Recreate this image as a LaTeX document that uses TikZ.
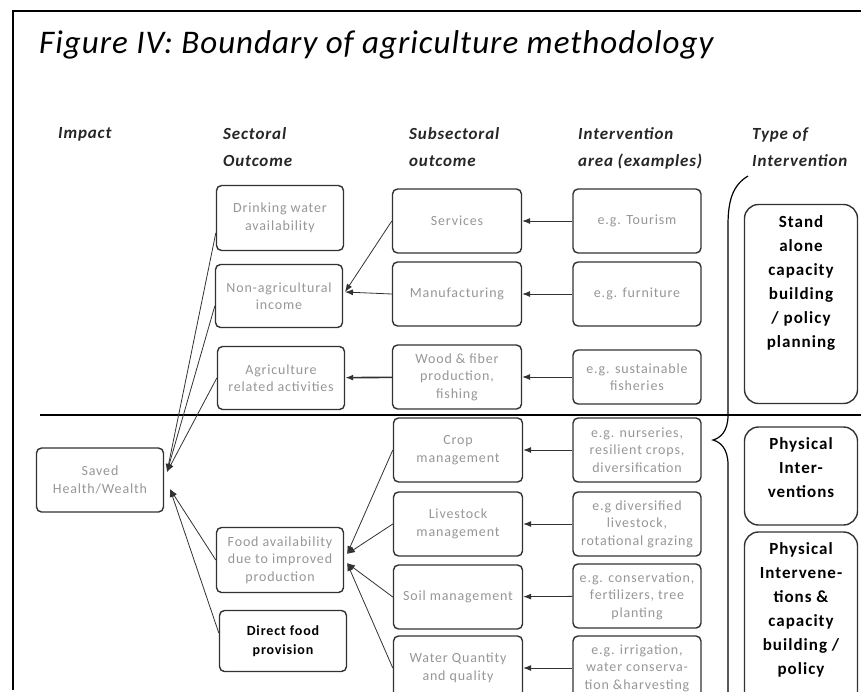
\documentclass[tikz,border=0pt]{standalone}
\usepackage{fontspec}
\setmainfont{Carlito}
\newfontfamily\boxfont[LetterSpace=6]{Carlito}
\newfontfamily\headfont[LetterSpace=5]{Carlito}
\newfontfamily\titlefont[LetterSpace=3]{Carlito}
\usetikzlibrary{positioning,arrows.meta}
\definecolor{colortext}{RGB}{150,150,150}
\definecolor{colorline}{RGB}{50,50,50}

\begin{document}
\begin{tikzpicture}[
    x=1pt, y=-1pt,
    base/.style={draw=colorline,line width=1.4pt,rounded corners=5pt,align=center,inner sep=2pt,
                 font={\boxfont\fontsize{14}{17.5}\selectfont},text=colortext},
    outcome/.style={base,minimum width=127pt,minimum height=63pt},
    area/.style={base,minimum width=128pt,minimum height=64pt},
    typebox/.style={draw=colorline,line width=1.4pt,rounded corners=14pt,minimum width=113pt},
    typetext/.style={inner sep=0pt,align=center,font={\boxfont\bfseries\fontsize{17}{24}\selectfont}},
    head/.style={anchor=north west,align=left,inner sep=0pt,
                 font={\headfont\bfseries\itshape\fontsize{17}{27}\selectfont},text=black!85},
    arr/.style={-{Latex[length=8pt,width=6pt]},line width=0.8pt,draw=colorline},
]
    \useasboundingbox (0,0) rectangle (861,691);
    \clip (0,0) rectangle (861,691);

    % frame and title
    \draw[line width=1.5pt] (13,690) -- (13,11) -- (875,11);
    \node[anchor=base west,inner sep=0pt,font={\titlefont\itshape\fontsize{33}{40}\selectfont}] (title) at (39,53)
        {Figure IV: Boundary of agriculture methodology};

    % column heads
    \node[head] (himpact)    at (58,127)  {Impact};
    \node[head] (hsector)    at (223,127) {Sectoral\\Outcome};
    \node[head] (hsubsector) at (409,127) {Subsectoral\\outcome};
    \node[head] (harea)      at (578,127) {Intervention\\area (examples)};
    \node[head] (htype)      at (752,127) {Type of\\Intervention};

    % divider
    \draw[line width=1.8pt] (40,415) -- (870,415);

    % impact
    \node[outcome,minimum height=64pt] (saved) at (100,480) {Saved\\Health/Wealth};

    % sectoral outcome
    \node[outcome,minimum height=65pt] (drink)   at (280,218) {Drinking water\\availability};
    \node[outcome] (nonagri) at (279,296) {Non-agricultural\\income};
    \node[outcome] (agrirel) at (281,378) {Agriculture\\related activities};
    \node[outcome,minimum height=65pt] (food)    at (280,560) {Food availability\\due to improved\\production};
    \node[outcome,minimum height=61pt,text=black,font={\boxfont\bfseries\fontsize{14}{19}\selectfont}]
        (direct) at (283,641) {Direct food\\provision};

    % subsectoral outcome
    \node[area,minimum width=129pt] (services)  at (457,221) {Services};
    \node[area,minimum width=129pt] (manuf)     at (457,294) {Manufacturing};
    \node[area,minimum width=129pt] (wood)      at (457,377) {Wood \& fiber\\production,\\fishing};
    \node[area,minimum width=129pt] (crop)      at (458,450) {Crop\\management};
    \node[area,minimum width=129pt] (livestock) at (458,524) {Livestock\\management};
    \node[area,minimum width=129pt] (soil)      at (458,597) {Soil management};
    \node[area,minimum width=129pt] (water)     at (458,668) {Water Quantity\\and quality};

    % intervention area
    \node[area] (tourism)      at (637,221) {e.g. Tourism};
    \node[area] (furniture)    at (637,294) {e.g. furniture};
    \node[area,minimum height=54pt] (fisheries) at (637,377) {e.g. sustainable\\fisheries};
    \node[area] (nurseries)    at (637,450) {e.g. nurseries,\\resilient crops,\\diversification};
    \node[area] (diversified)  at (637,524) {e.g diversified\\livestock,\\rotational grazing};
    \node[area] (conservation) at (637,596) {e.g. conservation,\\fertilizers, tree\\planting};
    \node[area] (irrigation)   at (637,668) {e.g. irrigation,\\water conserva-\\tion \&harvesting};

    % type of intervention
    \draw[line width=1.2pt] (748,176) .. controls (733,185) and (728,200) .. (728,225) -- (728,415)
        .. controls (728,432) and (720,438) .. (713,440)
        .. controls (720,442) and (728,448) .. (728,465) -- (728,700);
    \node[typebox,minimum height=199pt] (stand) at (801,304) {};
    \node[typebox,minimum height=98pt]  (phys)  at (801,476) {};
    \node[typebox,minimum height=190pt] (physcap) at (801,627) {};
    \node[typetext,below=12pt of stand.north]   (standtext)   {Stand\\alone\\capacity\\building\\/ policy\\planning};
    \node[typetext,below=11pt of phys.north]    (physstext)   {Physical\\Inter-\\ventions};
    \node[typetext,below=11pt of physcap.north] (physcaptext) {Physical\\Intervene-\\tions \&\\capacity\\building /\\policy};

    % arrow ends
    \coordinate (nonagriin) at (345,292);
    \coordinate (savedin)   at (167,472);
    \coordinate (savedlow)  at (170,489);
    \coordinate (foodin)    at (347,554);
    \coordinate (foodlow)   at (347,563);

    \draw[arr](tourism) -- (services);
    \draw[arr](furniture) -- (manuf);
    \draw[arr](fisheries) -- (wood);
    \draw[arr](nurseries) -- (crop);
    \draw[arr](diversified) -- (livestock);
    \draw[arr](conservation) -- (soil);
    \draw[arr](irrigation) -- (water);

    \draw[arr](services.west) -- (nonagriin);
    \draw[arr](manuf.west) -- (nonagriin);
    \draw[arr,line width=1.6pt](wood) -- (agrirel);

    \draw[arr](crop.west) -- (foodin);
    \draw[arr](livestock.west) -- (foodin);
    \draw[arr](soil.west) -- (foodlow);
    \draw[arr](water.west) -- (foodlow);

    \draw[arr]([yshift=-15pt]drink.west) -- (savedin);
    \draw[arr]([yshift=-10pt]nonagri.west) -- (savedin);
    \draw[arr](agrirel.west) -- (savedin);
    \draw[arr](food.west) -- (savedlow);
    \draw[arr]([yshift=8pt]direct.west) -- (savedlow);

\end{tikzpicture}
\end{document}
